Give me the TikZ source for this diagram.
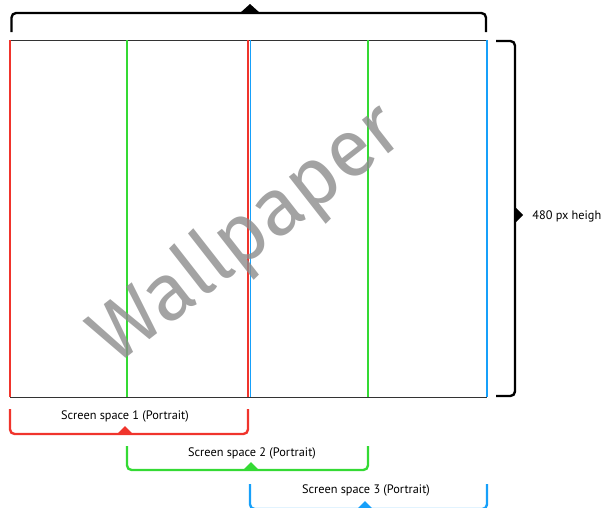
\documentclass[tikz,border=0pt]{standalone}
\usepackage{fontspec}
\setmainfont{PT Sans}
\newfontfamily\wpfont{Fira Sans}
\definecolor{ssred}{RGB}{240,52,44}
\definecolor{ssgreen}{RGB}{52,218,52}
\definecolor{ssblue}{RGB}{22,160,250}
\begin{document}
\begin{tikzpicture}[x=0.02cm, y=-0.02cm]
  \tikzstyle{brace} = [line width=1.35pt, rounded corners=2.6pt]
  \tikzstyle{edge} = [line width=1.1pt]
  \tikzstyle{notch} = [fill, draw=none]
  \tikzstyle{lbl} = [font=\fontsize{7}{8}\selectfont, inner sep=0pt]
  \useasboundingbox (0,0) rectangle (601,507);
  \clip (0,0) rectangle (601,507);
  % wallpaper frame
  \draw[line width=0.55pt, black!80] (10,40) -- (487,40);
  \draw[line width=0.55pt, black!80] (10,397) -- (487,397);
  \draw[edge, ssred] (10,40) -- (10,397);
  \draw[edge, ssgreen] (127,40) -- (127,397);
  \draw[edge, ssred] (248,40) -- (248,397);
  \draw[edge, ssblue] (250.5,40) -- (250.5,397);
  \draw[edge, ssgreen] (368,40) -- (368,397);
  \draw[edge, ssblue] (487,40) -- (487,397);
  \node[rotate=38, text=black!45, opacity=0.8, font=\wpfont\fontsize{46}{46}\selectfont] (wall) at (248,236) {Wallpaper};
  % width brace
  \draw[brace] (11.5,32) -- (11.5,13) -- (486,13) -- (486,32);
  \fill[notch] (240,13) -- (250,4) -- (260,13) -- cycle;
  % height brace
  \draw[brace] (496,41) -- (515,41) -- (515,396) -- (496,396);
  \fill[notch] (515,207) -- (523,215) -- (515,223) -- cycle;
  \node[lbl, anchor=west] (height) at (532,216) {480 px height};
  % screen spaces
  \draw[brace, ssred] (10,409) -- (10,434) -- (248,434) -- (248,409);
  \fill[notch, ssred] (117,434) -- (125,426) -- (133,434) -- cycle;
  \node[lbl] (ss1) at (125,416.5) {Screen space 1 (Portrait)};
  \draw[brace, ssgreen] (127,446) -- (127,470) -- (368,470) -- (368,446);
  \fill[notch, ssgreen] (243,470) -- (251,462) -- (259,470) -- cycle;
  \node[lbl] (ss2) at (252,453) {Screen space 2 (Portrait)};
  \draw[brace, ssblue] (250,484) -- (250,509) -- (487,509) -- (487,484);
  \fill[notch, ssblue] (357,509) -- (365,501) -- (373,509) -- cycle;
  \node[lbl] (ss3) at (366,490.5) {Screen space 3 (Portrait)};
\end{tikzpicture}
\end{document}
